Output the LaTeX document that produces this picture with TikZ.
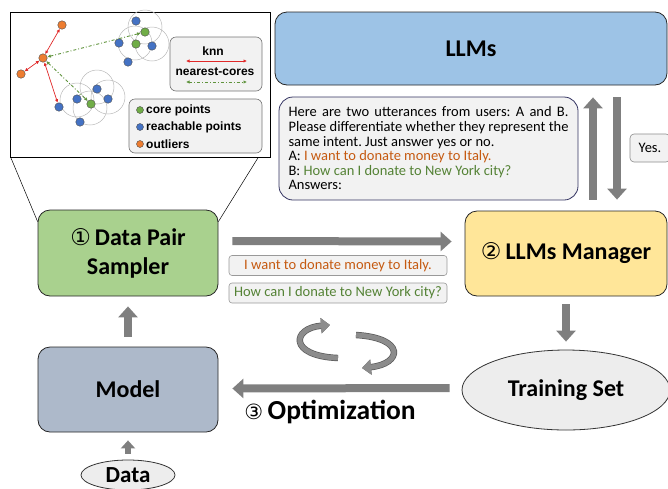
\documentclass[tikz,border=0pt]{standalone}
\usepackage{fontspec}
\setmainfont{Carlito}
\newfontfamily\arialfont{Liberation Sans}
\newfontfamily\circfont{DejaVu Sans}
\usetikzlibrary{arrows.meta,calc,shapes.geometric}

\definecolor{llmblue}{HTML}{9DC3E6}
\definecolor{pairgreen}{HTML}{A9D18E}
\definecolor{mgryellow}{HTML}{FFE699}
\definecolor{modelgray}{HTML}{ADB9CA}
\definecolor{boxgray}{HTML}{F2F2F2}
\definecolor{setgray}{HTML}{EDEDED}
\definecolor{arrowgray}{HTML}{7F7F7F}
\definecolor{txtorange}{HTML}{C55A11}
\definecolor{txtgreen}{HTML}{548235}
\definecolor{ptgreen}{HTML}{70AD47}
\definecolor{ptblue}{HTML}{4472C4}
\definecolor{ptorange}{HTML}{ED7D31}
\definecolor{knnred}{HTML}{E02828}

\newcommand\stepnum[2][23]{{\circfont\mdseries\fontsize{#1}{#1}\selectfont #2}}

\tikzset{
  stagebox/.style={draw=black!85, line width=0.8pt, rounded corners=12pt, inner sep=0pt,
    align=center, font=\bfseries\fontsize{24}{29}\selectfont},
  bigarrow/.style={draw=arrowgray, line width=8pt, -{Triangle[length=11pt,width=19pt]}},
  cycarrow/.style={draw=arrowgray!90, line width=5pt, -{Triangle[length=9pt,width=15pt]},
    preaction={draw=black!65, line width=6.4pt}},
  pt/.style={circle, draw=black!70, line width=0.4pt, minimum size=8.5pt, inner sep=0pt},
  legbox/.style={draw=black!55, fill=boxgray, rounded corners=6pt, line width=0.6pt, inner sep=0pt},
  legtxt/.style={font=\arialfont\bfseries\fontsize{12}{14}\selectfont, inner sep=1pt},
  knn/.style={draw=knnred, line width=0.7pt, {Latex[length=3.5pt,width=3.5pt]}-{Latex[length=3.5pt,width=3.5pt]}},
  nearcore/.style={draw=ptgreen!85!black, line width=0.9pt, dash dot,
    {Latex[length=3.5pt,width=3.5pt]}-{Latex[length=3.5pt,width=3.5pt]}},
  sentbox/.style={draw=black!40, fill=boxgray, rounded corners=3pt, line width=0.6pt,
    minimum width=218pt, minimum height=20pt, inner sep=0pt, font=\fontsize{14.5}{16}\selectfont}
}

\begin{document}
\frenchspacing
\begin{tikzpicture}[x=1pt,y=-1pt]
\useasboundingbox (0,0) rectangle (668,488);

% ---- inset: density clusters
\node[draw, line width=0.6pt, minimum width=260pt, minimum height=145pt, inner sep=0pt] (inset) at (140,84.5) {};
\foreach \cx/\cy in {145/27,135/43,152/44,77/100,97/87,108/97,90/108}
  \draw[gray!55, line width=0.5pt] (\cx,\cy) circle (17);

\node[pt, fill=ptorange] (o1) at (43,58) {};
\node[pt, fill=ptorange] (o2) at (62,25) {};
\node[pt, fill=ptorange] (o3) at (21,74) {};
\node[pt, fill=ptgreen] (c1) at (145,32) {};
\node[pt, fill=ptgreen] (c2) at (136,44) {};
\node[pt, fill=ptgreen] (c3) at (91,104) {};
\node[pt, fill=ptblue] (b1) at (136,21) {};
\node[pt, fill=ptblue] (b2) at (119,43) {};
\node[pt, fill=ptblue] (b3) at (152,46) {};
\node[pt, fill=ptblue] (b4) at (128,62) {};
\node[pt, fill=ptblue] (b5) at (97,89) {};
\node[pt, fill=ptblue] (b6) at (77,99) {};
\node[pt, fill=ptblue] (b7) at (108,99) {};
\node[pt, fill=ptblue] (b8) at (59,107) {};
\node[pt, fill=ptblue] (b9) at (80,122) {};

\draw[knn] (o1) -- (o2);
\draw[knn] (o1) -- (o3);
\draw[knn] (o1) -- (b8);
\draw[nearcore] (o1) -- (c1);
\draw[nearcore] (o1) -- (c3);

% legends
\node[legbox, minimum width=92pt, minimum height=54pt] (knnbox) at (216,64) {};
\node[legtxt] (knnlab) at (213,51) {knn};
\coordinate (knnl) at (186,61);
\coordinate (knnr) at (247,61);
\draw[knn] (knnl) -- (knnr);
\node[legtxt] (corelab) at (215,72) {nearest-cores};
\coordinate (corel) at (186,82);
\coordinate (corer) at (247,82);
\draw[nearcore] (corel) -- (corer);

\node[legbox, minimum width=133pt, minimum height=54pt] (ptbox) at (195.5,126) {};
\node[pt, minimum size=7pt, fill=ptgreen] (kcore) at (140,110) {};
\node[pt, minimum size=7pt, fill=ptblue] (kreach) at (140,127) {};
\node[pt, minimum size=7pt, fill=ptorange] (kout) at (140,144) {};
\node[legtxt, anchor=west] at (145,110) {core points};
\node[legtxt, anchor=west] at (145,127) {reachable points};
\node[legtxt, anchor=west] at (145,144) {outliers};

% ---- main boxes
\node[stagebox, fill=llmblue, minimum width=392pt, minimum height=73pt] (llms) at (471,48.5) {LLMs};
\node[draw=black!70!blue!60!gray, fill=boxgray, line width=0.8pt, rounded corners=14pt,
  minimum width=299pt, minimum height=103pt, text width=280pt, align=justify, inner sep=0pt,
  font=\fontsize{14.5}{14.6}\selectfont] (prompt) at (428.5,148.5) {%
  Here are two utterances from users: A and B.\linebreak
  Please differentiate whether they represent the\linebreak
  same intent. Just answer yes or no.\\
  A: \textcolor{txtorange}{I want to donate money to Italy.}\\
  B: \textcolor{txtgreen}{How can I donate to New York city?}\\
  Answers:};
\node[draw=black!45, fill=boxgray, rounded corners=4pt, line width=0.6pt, minimum width=40pt,
  minimum height=28pt, inner sep=0pt, font=\fontsize{14.5}{16}\selectfont] (yes) at (650,148) {Yes.};

\node[stagebox, fill=pairgreen, minimum width=180pt, minimum height=86pt] (sampler) at (128,253)
  {\stepnum{①}\,Data Pair\\Sampler};
\node[stagebox, fill=mgryellow, minimum width=202pt, minimum height=85pt] (manager) at (566,253.5)
  {\stepnum{②}\,LLMs Manager};
\node[stagebox, fill=modelgray, minimum width=180pt, minimum height=85pt] (model) at (128,389.5) {Model};
\node[ellipse, draw=black!80, fill=setgray, line width=0.8pt, minimum width=208pt, minimum height=80pt,
  inner sep=0pt, font=\bfseries\fontsize{24}{29}\selectfont] (training) at (566,390) {Training Set};
\node[ellipse, draw=black!80, fill=setgray, line width=0.8pt, minimum width=94pt, minimum height=30pt,
  inner sep=0pt, font=\bfseries\fontsize{23}{27}\selectfont] (data) at (128,475) {Data};

\node[sentbox, text=txtorange] (sentA) at (338,265.5) {I want to donate money to Italy.};
\node[sentbox, text=txtgreen] (sentB) at (338,293) {How can I donate to New York city?};
\node[font=\bfseries\fontsize{27.5}{32}\selectfont] (opt) at (330,412) {\stepnum[21]{③}\,Optimization};

% inset zoom lines
\draw[line width=0.5pt] ([xshift=1pt]inset.south west) -- ([yshift=-12pt]sampler.north west);
\draw[line width=0.5pt] ([xshift=-12pt]inset.south east) -- ([yshift=-12pt]sampler.north east);

% ---- flow arrows
\coordinate (upx) at (593,0);
\coordinate (dnx) at (617,0);
\draw[bigarrow] ($(manager.north -| upx)+(0,-11)$) -- ($(llms.south -| upx)+(0,12)$);
\draw[bigarrow] ($(llms.south -| dnx)+(0,12)$) -- ($(manager.north -| dnx)+(0,-11)$);
\draw[bigarrow] ([xshift=14pt,yshift=12pt]sampler.east) -- ([xshift=-13pt,yshift=12pt]manager.west);
\draw[bigarrow] ([yshift=-8pt]manager.south) -- ([yshift=8pt]training.north);
\draw[bigarrow] ([xshift=-12pt,yshift=2pt]training.west) -- ([xshift=14pt,yshift=1pt]model.east);
\draw[bigarrow] ([yshift=10pt]model.north) -- ([yshift=-10pt]sampler.south);
\draw[bigarrow, line width=6pt, -{Triangle[length=8pt,width=14pt]}] ([yshift=6pt]data.north) -- ([yshift=-8pt]model.south);

% cycle
\draw[cycarrow] (338,358) .. controls (288,356) and (292,328) .. (330,325);
\draw[cycarrow] (356,335) .. controls (406,338) and (402,364) .. (362,368);
\end{tikzpicture}
\end{document}
